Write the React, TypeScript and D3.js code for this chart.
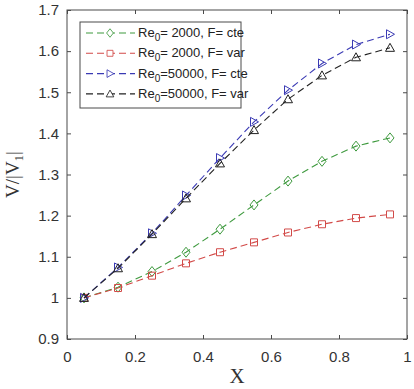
import { useEffect, useRef } from 'react'
import * as d3 from 'd3'

const xValues = [0.05, 0.15, 0.25, 0.35, 0.45, 0.55, 0.65, 0.75, 0.85, 0.95]

const re2000Cte = [1.0, 1.026, 1.064, 1.111, 1.167, 1.226, 1.284, 1.332, 1.369, 1.389]
const re2000Var = [1.0, 1.024, 1.054, 1.084, 1.111, 1.135, 1.159, 1.179, 1.194, 1.203]
const re50000Cte = [1.0, 1.074, 1.157, 1.249, 1.34, 1.428, 1.505, 1.57, 1.616, 1.641]
const re50000Var = [1.0, 1.072, 1.155, 1.242, 1.327, 1.408, 1.483, 1.541, 1.585, 1.608]

const xTicks = [0, 0.2, 0.4, 0.6, 0.8, 1]
const yTicks = [0.9, 1, 1.1, 1.2, 1.3, 1.4, 1.5, 1.6, 1.7]

const seriesNames = ['= 2000, F= cte', '= 2000, F= var', '=50000, F= cte', '=50000, F= var']

type Series = { name: string; values: number[]; color: string; marker: string }

const series: Series[] = [
  { name: seriesNames[0], values: re2000Cte, color: '#3f9a3f', marker: 'diamond' },
  { name: seriesNames[1], values: re2000Var, color: '#d24a48', marker: 'square' },
  { name: seriesNames[2], values: re50000Cte, color: '#3a3ab4', marker: 'right' },
  { name: seriesNames[3], values: re50000Var, color: '#222222', marker: 'up' },
]

const markerPath = (m: string) => {
  if (m === 'diamond') return 'M0,-5L4,0L0,5L-4,0Z'
  if (m === 'square') return 'M-3.5,-3.5L3.5,-3.5L3.5,3.5L-3.5,3.5Z'
  if (m === 'right') return 'M-3.5,-4.5L4.5,0L-3.5,4.5Z'
  return 'M0,-4.5L4.5,3.5L-4.5,3.5Z'
}

export default () => {
  const rootRef = useRef<SVGSVGElement>(null)

  useEffect(() => {
    const margin = { top: 10, right: 7, bottom: 50, left: 67 },
      width = 414 - margin.left - margin.right,
      height = 389 - margin.top - margin.bottom

    const root = d3.select(rootRef.current)
    root.selectAll('*').remove()

    const svg = root
      .append('g')
      .attr('transform', 'translate(' + margin.left + ',' + margin.top + ')')

    const x = d3.scaleLinear().domain([0, 1]).range([0, width])
    const y = d3.scaleLinear().domain([0.9, 1.7]).range([height, 0])

    const axisColor = '#4a4a4a'
    const tickFont = '15px "Liberation Sans", Arial, sans-serif'

    // box
    svg
      .append('rect')
      .attr('width', width)
      .attr('height', height)
      .attr('fill', 'none')
      .attr('stroke', axisColor)
      .attr('stroke-width', 1)

    // ticks inward on all four sides
    const gx = svg
      .append('g')
      .attr('transform', 'translate(0,' + height + ')')
      .call(d3.axisBottom(x).tickValues(xTicks).tickSizeInner(-4).tickSizeOuter(0).tickPadding(12).tickFormat(d3.format('~g')))
    const gxTop = svg
      .append('g')
      .call(d3.axisTop(x).tickValues(xTicks).tickSizeInner(-4).tickSizeOuter(0).tickFormat(() => ''))
    const gy = svg
      .append('g')
      .call(d3.axisLeft(y).tickValues(yTicks).tickSizeInner(-4).tickSizeOuter(0).tickPadding(8).tickFormat(d3.format('~g')))
    const gyRight = svg
      .append('g')
      .attr('transform', 'translate(' + width + ',0)')
      .call(d3.axisRight(y).tickValues(yTicks).tickSizeInner(-4).tickSizeOuter(0).tickFormat(() => ''))

    for (const g of [gx, gxTop, gy, gyRight]) {
      g.select('.domain').remove()
      g.selectAll('line').attr('stroke', axisColor)
      g.selectAll('text').style('font', tickFont).attr('fill', '#333')
    }

    // axis labels
    svg
      .append('text')
      .attr('x', width / 2)
      .attr('y', height + 44)
      .attr('text-anchor', 'middle')
      .style('font', '21px "Liberation Serif", "Times New Roman", serif')
      .attr('fill', '#333')
      .text('X')

    const yl = svg
      .append('text')
      .attr('transform', 'translate(-48,' + height / 2 + ') rotate(-90)')
      .attr('text-anchor', 'middle')
      .style('font', '19px "Liberation Serif", "Times New Roman", serif')
      .attr('fill', '#333')
    yl.append('tspan').text('V/|V')
    yl.append('tspan').attr('dy', 4).style('font-size', '13px').text('1')
    yl.append('tspan').attr('dy', -4).text('|')

    const line = d3
      .line<number>()
      .x((_, i) => x(xValues[i]))
      .y((d) => y(d))

    for (const s of series) {
      svg
        .append('path')
        .datum(s.values)
        .attr('fill', 'none')
        .attr('stroke', s.color)
        .attr('stroke-width', 1.1)
        .attr('stroke-dasharray', '7,4')
        .attr('d', line)

      svg
        .append('g')
        .selectAll('path')
        .data(s.values)
        .join('path')
        .attr('transform', (d, i) => 'translate(' + x(xValues[i]) + ',' + y(d) + ')')
        .attr('d', markerPath(s.marker))
        .attr('fill', 'none')
        .attr('stroke', s.color)
        .attr('stroke-width', 1)
    }

    // legend
    const lg = svg.append('g').attr('transform', 'translate(13,12)')
    lg.append('rect')
      .attr('width', 161)
      .attr('height', 86)
      .attr('fill', 'white')
      .attr('stroke', axisColor)
      .attr('stroke-width', 1)

    series.forEach((s, i) => {
      const row = lg.append('g').attr('transform', 'translate(0,' + (11 + i * 20.3) + ')')
      row
        .append('line')
        .attr('x1', 6)
        .attr('x2', 55)
        .attr('stroke', s.color)
        .attr('stroke-width', 1.1)
        .attr('stroke-dasharray', '7,4')
      row
        .append('path')
        .attr('transform', 'translate(30,0) scale(0.85)')
        .attr('d', markerPath(s.marker))
        .attr('fill', 'white')
        .attr('stroke', s.color)
      const t = row
        .append('text')
        .attr('x', 58)
        .attr('y', 4)
        .style('font', '13px "Liberation Sans", Arial, sans-serif')
        .attr('fill', '#222')
      t.append('tspan').text('Re')
      t.append('tspan').attr('dy', 4).style('font-size', '10px').text('0')
      t.append('tspan').attr('dy', -4).text(s.name)
    })
  }, [])

  return (
    <svg
      ref={rootRef}
      width={414}
      height={389}
      style={{ position: 'absolute', left: 0, top: 0, background: 'white' }}
    ></svg>
  )
}
